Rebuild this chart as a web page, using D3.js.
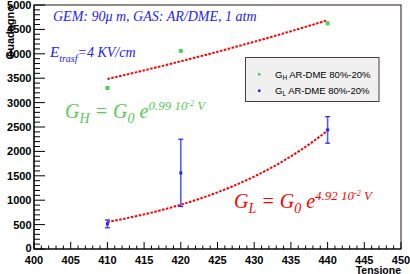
<!DOCTYPE html>
<html>
<head>
<meta charset="utf-8">
<script src="https://cdn.jsdelivr.net/npm/d3@7"></script>
<style>
  body { margin: 0; background: #fff; }
  svg { display: block; }
</style>
</head>
<body>
<svg class="chart"></svg>
<script>
// measured points (tensione in V, guadagno)
const voltages = [410, 420, 440];
const gainH = [3300, 4060, 4625];
const gainL = [515, 1560, 2440];
const gainLErr = [80, 690, 272];

// exponential fits G = G0 e^(slope V), normalised at the first point
const fitSlopes = [0.0099, 0.0492];
const fitNorms = [3484, 555];
const fitRange = [410, 440];

const xTicks = d3.range(400, 451, 5);
const yTicks = d3.range(0, 5001, 500);

const width = 410, height = 274;
const svg = d3.select(".chart").attr("width", width).attr("height", height);

const x = d3.scaleLinear().domain([400, 450]).range([34, 401]);
const y = d3.scaleLinear().domain([0, 5000]).range([249, 5]);

const green = "#55cc55", blue = "#2222ff", red = "#ff0000";

// frame
svg.append("rect")
  .attr("x", x(400)).attr("y", y(5000))
  .attr("width", x(450) - x(400)).attr("height", y(0) - y(5000))
  .attr("fill", "none").attr("stroke", "#4a3c3c").attr("stroke-width", 1.2);

// x axis
const xAxis = svg.append("g");
xAxis.append("line")
  .attr("x1", x(400)).attr("x2", x(450)).attr("y1", y(0)).attr("y2", y(0))
  .attr("stroke", "black").attr("stroke-width", 1.2);
xAxis.selectAll("line.minor").data(d3.range(400, 451, 1)).join("line")
  .attr("class", "minor")
  .attr("x1", d => x(d)).attr("x2", d => x(d))
  .attr("y1", y(0)).attr("y2", d => y(0) - (d % 5 === 0 ? 7 : 3.5))
  .attr("stroke", "black").attr("stroke-width", 1);
xAxis.selectAll("text").data(xTicks).join("text")
  .attr("x", d => x(d)).attr("y", 263.5)
  .attr("text-anchor", "middle")
  .attr("font-family", "Liberation Sans, Arial, sans-serif")
  .attr("font-weight", "bold").attr("font-size", 11)
  .text(d => d);
svg.append("text")
  .attr("x", 401).attr("y", 273.5).attr("text-anchor", "end")
  .attr("font-family", "Liberation Sans, Arial, sans-serif")
  .attr("font-weight", "bold").attr("font-size", 10.5)
  .text("Tensione");

// y axis
const yAxis = svg.append("g");
yAxis.append("line")
  .attr("x1", x(400)).attr("x2", x(400)).attr("y1", y(0)).attr("y2", y(5000))
  .attr("stroke", "black").attr("stroke-width", 1.2);
yAxis.selectAll("line.minor").data(d3.range(0, 5001, 100)).join("line")
  .attr("class", "minor")
  .attr("x1", x(400)).attr("x2", d => x(400) + (d % 500 === 0 ? 11 : 6))
  .attr("y1", d => y(d)).attr("y2", d => y(d))
  .attr("stroke", "black").attr("stroke-width", 1);
yAxis.selectAll("text").data(yTicks).join("text")
  .attr("x", 31.5).attr("y", d => y(d) + (d === 0 ? 2.5 : 4))
  .attr("text-anchor", "end")
  .attr("font-family", "Liberation Sans, Arial, sans-serif")
  .attr("font-weight", "bold").attr("font-size", 11)
  .text(d => d);
svg.append("text")
  .attr("transform", "translate(14,5) rotate(-90)")
  .attr("text-anchor", "end")
  .attr("font-family", "Liberation Sans, Arial, sans-serif")
  .attr("font-weight", "bold").attr("font-size", 11)
  .text("Guadagno");

// fit curves
const line = d3.line().x(d => x(d[0])).y(d => y(d[1]));
fitSlopes.forEach((s, i) => {
  const pts = d3.range(fitRange[0], fitRange[1] + 0.01, 0.5)
    .map(v => [v, fitNorms[i] * Math.exp(s * (v - fitRange[0]))]);
  svg.append("path").datum(pts)
    .attr("d", line)
    .attr("fill", "none").attr("stroke", red)
    .attr("stroke-width", 2).attr("stroke-dasharray", "2.5,1.5");
});

// G_H points
svg.selectAll("rect.gh").data(voltages).join("rect")
  .attr("class", "gh")
  .attr("x", d => x(d) - 2).attr("y", (d, i) => y(gainH[i]) - 2)
  .attr("width", 4).attr("height", 4).attr("fill", green);

// G_L points with error bars
const gl = svg.selectAll("g.gl").data(voltages).join("g").attr("class", "gl");
gl.append("line")
  .attr("x1", d => x(d)).attr("x2", d => x(d))
  .attr("y1", (d, i) => y(gainL[i] - gainLErr[i]))
  .attr("y2", (d, i) => y(gainL[i] + gainLErr[i]))
  .attr("stroke", "#5a5aff").attr("stroke-width", 1.6);
[-1, 1].forEach(sgn => {
  gl.append("line")
    .attr("x1", d => x(d) - 2.5).attr("x2", d => x(d) + 2.5)
    .attr("y1", (d, i) => y(gainL[i] + sgn * gainLErr[i]))
    .attr("y2", (d, i) => y(gainL[i] + sgn * gainLErr[i]))
    .attr("stroke", blue).attr("stroke-width", 1.2);
});
gl.append("rect")
  .attr("x", d => x(d) - 1.5).attr("y", (d, i) => y(gainL[i]) - 1.5)
  .attr("width", 3).attr("height", 3).attr("fill", blue);

// annotations
const serif = "Liberation Serif, Times New Roman, serif";
svg.append("text")
  .attr("x", 53).attr("y", 21)
  .attr("font-family", serif).attr("font-style", "italic")
  .attr("font-size", 14).attr("fill", blue)
  .text("GEM: 90\u03bc m, GAS: AR/DME, 1 atm");

const et = svg.append("text")
  .attr("x", 50).attr("y", 57)
  .attr("font-family", serif).attr("font-style", "italic").attr("fill", blue);
et.append("tspan").attr("font-size", 15).text("E");
et.append("tspan").attr("font-size", 10).attr("dy", 5).text("trasf");
et.append("tspan").attr("font-size", 14).attr("dy", -5).text("=4 KV/cm");

function formula(xp, yp, sub, exp, color) {
  const t = svg.append("text")
    .attr("x", xp).attr("y", yp)
    .attr("font-family", serif).attr("font-style", "italic").attr("fill", color);
  t.append("tspan").attr("font-size", 20).text("G");
  t.append("tspan").attr("font-size", 14).attr("dy", 5).text(sub);
  t.append("tspan").attr("font-size", 20).attr("dy", -5).text(" = G");
  t.append("tspan").attr("font-size", 14).attr("dy", 5).text("0");
  t.append("tspan").attr("font-size", 20).attr("dy", -5).text(" e");
  t.append("tspan").attr("font-size", 13).attr("dy", -8).text(exp + " 10");
  t.append("tspan").attr("font-size", 8).attr("dy", -4).text("-2");
  t.append("tspan").attr("font-size", 13).attr("dy", 4).text(" V");
}
formula(65, 118, "H", "0.99", green);
formula(234, 208, "L", "4.92", red);

// legend
const lg = svg.append("g");
lg.append("rect")
  .attr("x", 245.5).attr("y", 57.5).attr("width", 133.5).attr("height", 44)
  .attr("fill", "#f0f0f0").attr("stroke", "#4a3c3c").attr("stroke-width", 1);
const legendItems = [["H", green, 74], ["L", blue, 90.5]];
legendItems.forEach(([sub, color, ly]) => {
  lg.append("rect").attr("x", 258).attr("y", ly - 1).attr("width", 2.5).attr("height", 2.5)
    .attr("fill", color);
  const t = lg.append("text").attr("x", 275).attr("y", ly + 3.5)
    .attr("font-family", "Liberation Sans, Arial, sans-serif").attr("font-size", 9.5);
  t.append("tspan").text("G");
  t.append("tspan").attr("font-size", 6.5).attr("dy", 2).text(sub);
  t.append("tspan").attr("dy", -2).text(" AR-DME 80%-20%");
});
</script>
</body>
</html>
